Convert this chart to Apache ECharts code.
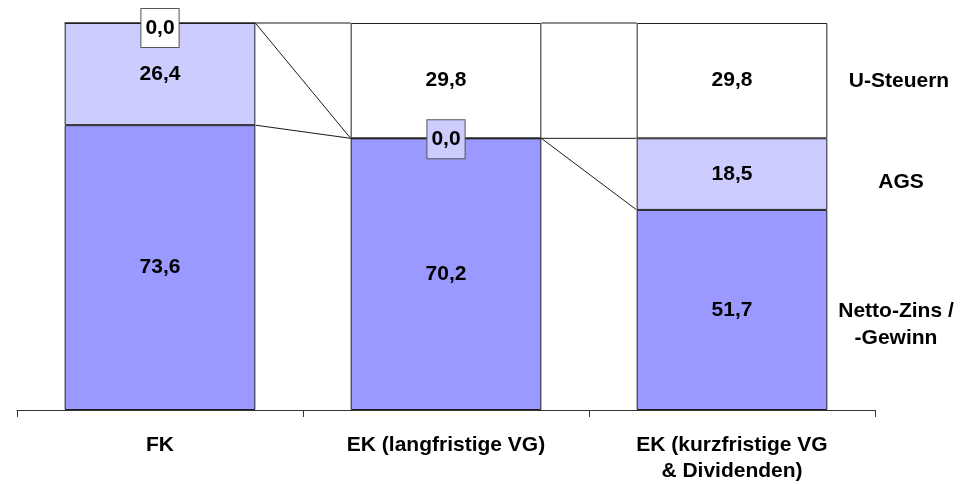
<!DOCTYPE html>
<html>
<head>
<meta charset="utf-8">
<title>Belastungsvergleich FK / EK</title>
<script src="https://cdn.jsdelivr.net/npm/echarts@6/dist/echarts.min.js"></script>
<style>
  html, body { margin: 0; padding: 0; background: #ffffff; }
  #chart { width: 975px; height: 484px; }
</style>
</head>
<body>
<div id="chart"></div>
<script>
// Finanzierungsformen (Kategorien der x-Achse)
const categories = ['FK', 'EK (langfristige VG)', 'EK (kurzfristige VG\n& Dividenden)'];

// Anteile in Prozent, von unten nach oben gestapelt
const nettoZins = [73.6, 70.2, 51.7];
const ags       = [26.4, 0.0, 18.5];
const uSteuern  = [0.0, 29.8, 29.8];

// Beschriftungen rechts neben dem Diagramm
const seriesNames = ['Netto-Zins /\n-Gewinn', 'AGS', 'U-Steuern'];

const FONT = 'Arial, "Liberation Sans", Helvetica, sans-serif';
const FONT_SIZE = 21;
const colors = ['#9999FF', '#CCCCFF', '#FFFFFF'];
const BAR_FRAC = 2 / 3; // Balkenbreite relativ zur Kategorienbreite

const fmt = v => v.toFixed(1).replace('.', ',');

const stacks = [nettoZins, ags, uSteuern];

function barSeries(level, color) {
  const values = stacks[level];
  return {
    name: seriesNames[level],
    type: 'bar',
    stack: 'total',
    barCategoryGap: ((1 - BAR_FRAC) * 100).toFixed(2) + '%',
    itemStyle: { color: color, borderColor: '#202020', borderWidth: 1 },
    label: {
      show: true,
      position: 'inside',
      color: '#000000',
      fontFamily: FONT,
      fontWeight: 'bold',
      fontSize: FONT_SIZE,
      formatter: p => fmt(p.value)
    },
    data: values.map((v, i) => {
      if (v !== 0) return v;
      // Nullwerte erhalten ein umrandetes Kästchen; am oberen Rand etwas nach innen gerückt
      let cum = 0;
      for (let k = 0; k <= level; k++) cum += stacks[k][i];
      return {
        value: v,
        label: {
          backgroundColor: color,
          borderColor: '#555555',
          borderWidth: 1,
          padding: [9, 4, 8, 4],
          offset: [0, cum >= 100 ? 5 : 1]
        }
      };
    }),
    emphasis: { disabled: true }
  };
}

// Verbindungslinien zwischen den Stapelgrenzen benachbarter Balken
const connectors = [];
for (let level = 0; level < stacks.length; level++) {
  for (let i = 0; i < categories.length - 1; i++) {
    let from = 0, to = 0;
    for (let k = 0; k <= level; k++) { from += stacks[k][i]; to += stacks[k][i + 1]; }
    connectors.push([i, from, to]);
  }
}

const sideText = (text, x, y) => ({
  type: 'text',
  x: x,
  y: y,
  style: {
    text: text,
    font: 'bold ' + FONT_SIZE + 'px ' + FONT,
    fill: '#000000',
    textAlign: 'center',
    textVerticalAlign: 'middle',
    lineHeight: 27
  }
});

const chart = echarts.init(document.getElementById('chart'), null, { renderer: 'canvas' });
chart.setOption({
  animation: false,
  backgroundColor: '#ffffff',
  grid: { left: 17, right: 100, top: 23, bottom: 73 },
  xAxis: {
    type: 'category',
    data: categories,
    axisLine: { lineStyle: { color: '#333333', width: 1 } },
    axisTick: { show: true, length: 7, lineStyle: { color: '#333333' } },
    axisLabel: {
      interval: 0,
      margin: 22,
      color: '#000000',
      fontFamily: FONT,
      fontWeight: 'bold',
      fontSize: FONT_SIZE,
      lineHeight: 26
    }
  },
  yAxis: {
    type: 'value',
    min: 0,
    max: 100,
    show: false
  },
  series: [
    barSeries(0, colors[0]),
    barSeries(1, colors[1]),
    barSeries(2, colors[2]),
    {
      type: 'custom',
      silent: true,
      z: 5,
      encode: { x: 0, y: [1, 2] },
      data: connectors,
      renderItem: (params, api) => {
        const i = api.value(0);
        const p1 = api.coord([i, api.value(1)]);
        const p2 = api.coord([i + 1, api.value(2)]);
        const half = api.size([1, 0])[0] * BAR_FRAC / 2;
        return {
          type: 'line',
          shape: { x1: p1[0] + half, y1: p1[1], x2: p2[0] - half, y2: p2[1] },
          style: { stroke: '#1a1a1a', lineWidth: 1 }
        };
      }
    }
  ],
  graphic: [
    sideText(seriesNames[2], 899, 81),
    sideText(seriesNames[1], 901, 182),
    sideText(seriesNames[0], 896, 325)
  ]
});
</script>
</body>
</html>
